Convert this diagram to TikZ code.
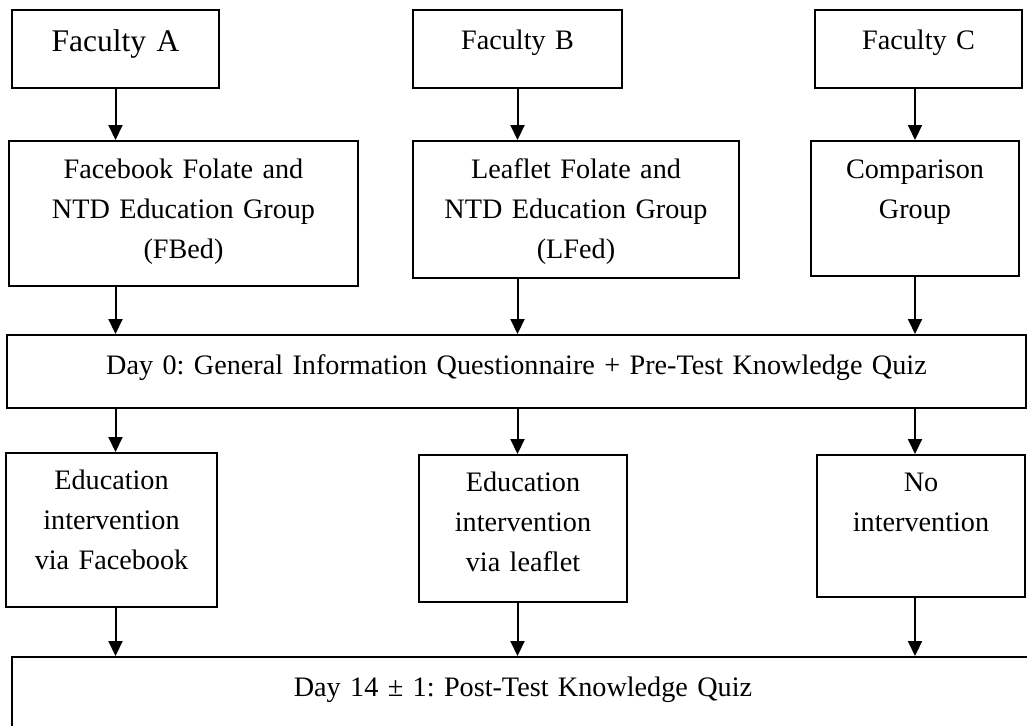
\documentclass[tikz,border=0pt]{standalone}
\usepackage{fontspec}
\setmainfont{Liberation Serif}
\usetikzlibrary{arrows.meta}
\frenchspacing

\begin{document}
\begin{tikzpicture}[
        x=0.5pt, y=-0.5pt,
        box/.style={rectangle, draw=black, line width=1pt, anchor=north, inner xsep=2pt, inner ysep=0pt, align=center, font=\fontsize{14.1}{20}\selectfont, text height=19.5pt},
        bigbox/.style={box, font=\fontsize{15.75}{20}\selectfont, text height=20.5pt},
        arrow/.style={->, >={Triangle[length=7.5pt, width=7pt]}, line width=1pt}
    ]
    \useasboundingbox (0,0) rectangle (1027,725);
    \clip (0,0) rectangle (1027,725);

    \node[bigbox, text width=99.5pt, text depth=18.5pt] (facA) at (115.5,9) {Faculty A};
    \node[box, text width=100.5pt, text depth=19.5pt] (facB) at (517.5,9) {Faculty B};
    \node[box, text width=99.5pt, text depth=19.5pt] (facC) at (918.5,9) {Faculty C};

    \node[box, text width=170.5pt, text height=18.5pt, text depth=54pt] (fbgroup) at (183.5,140) {Facebook Folate and\\NTD Education Group\\(FBed)};
    \node[box, text width=159pt, text height=18.5pt, text depth=50pt] (lfgroup) at (576,140) {Leaflet Folate and\\NTD Education Group\\(LFed)};
    \node[box, text width=100pt, text height=18.5pt, text depth=49pt] (compgroup) at (915,140) {Comparison\\Group};

    \node[box, text width=505.5pt, text depth=17pt] (day0) at (516.5,334) {Day 0: General Information Questionnaire + Pre-Test Knowledge Quiz};

    \node[box, text width=101.5pt, text height=18pt, text depth=59pt] (edufb) at (111.5,452) {Education\\intervention\\via Facebook};
    \node[box, text width=100pt, text height=18pt, text depth=55.5pt] (eduleaf) at (523,454) {Education\\intervention\\via leaflet};
    \node[box, text width=100pt, text height=18pt, text depth=53pt] (noint) at (921,454) {No\\intervention};

    \node[box, text width=507pt, text depth=25pt] (day14) at (523,656) {Day 14 ± 1: Post-Test Knowledge Quiz};

    % faculty A column
    \draw[arrow] (facA.south) -- (facA.south |- fbgroup.north);
    \draw[arrow] (fbgroup.south -| facA) -- (day0.north -| facA);
    \draw[arrow] (day0.south -| facA) -- (edufb.north -| facA);
    \draw[arrow] (edufb.south -| facA) -- (day14.north -| facA);

    % faculty B column
    \draw[arrow] (facB.south) -- (facB.south |- lfgroup.north);
    \draw[arrow] (lfgroup.south -| facB) -- (day0.north -| facB);
    \draw[arrow] (day0.south -| facB) -- (eduleaf.north -| facB);
    \draw[arrow] (eduleaf.south -| facB) -- (day14.north -| facB);

    % faculty C column
    \draw[arrow] (facC.south -| compgroup) -- (compgroup.north);
    \draw[arrow] (compgroup.south) -- (day0.north -| compgroup);
    \draw[arrow] (day0.south -| compgroup) -- (noint.north -| compgroup);
    \draw[arrow] (noint.south -| compgroup) -- (day14.north -| compgroup);

\end{tikzpicture}
\end{document}
